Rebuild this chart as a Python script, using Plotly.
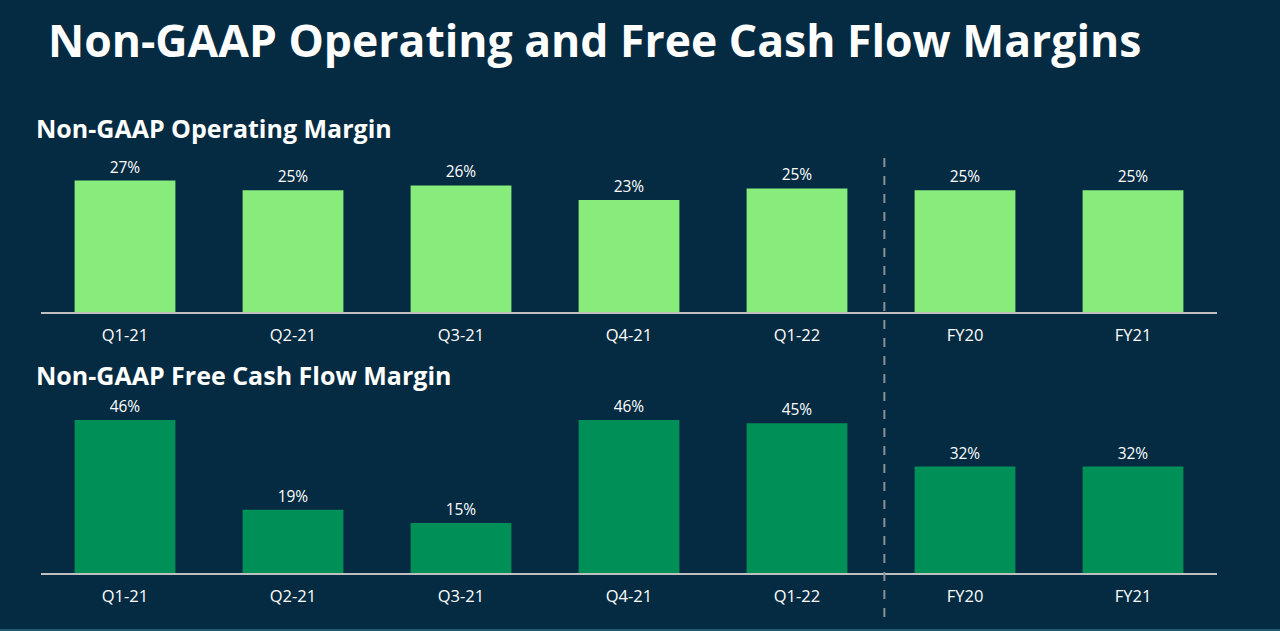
import plotly.graph_objects as go

categories = ["Q1-21", "Q2-21", "Q3-21", "Q4-21", "Q1-22", "FY20", "FY21"]
operating_margin = [26.9, 24.9, 25.9, 22.9, 25.3, 24.9, 24.9]
operating_labels = ["27%", "25%", "26%", "23%", "25%", "25%", "25%"]
fcf_margin = [46.0, 19.0, 15.0, 46.0, 45.0, 32.0, 32.0]
fcf_labels = ["46%", "19%", "15%", "46%", "45%", "32%", "32%"]

BG = "#042b42"
W, H = 1280, 631
FONT = "Open Sans"

def py(px):
    return (H - px) / H

fig = go.Figure()
fig.add_trace(go.Bar(
    x=categories, y=operating_margin, text=operating_labels,
    textposition="outside", cliponaxis=False,
    textfont=dict(color="white", size=15.5, family=FONT),
    marker=dict(color="#87ec7b", line=dict(width=0)),
    width=0.6, xaxis="x", yaxis="y", showlegend=False, hoverinfo="x+y"))
fig.add_trace(go.Bar(
    x=categories, y=fcf_margin, text=fcf_labels,
    textposition="outside", cliponaxis=False,
    textfont=dict(color="white", size=15.5, family=FONT),
    marker=dict(color="#008f57", line=dict(width=0)),
    width=0.6, xaxis="x2", yaxis="y2", showlegend=False, hoverinfo="x+y"))

xdom = [41 / W, 1217 / W]
xcommon = dict(domain=xdom, range=[-0.5, 6.5], showline=True, linecolor="#bfbfbf",
               linewidth=2, showgrid=False, zeroline=False, ticks="outside",
               ticklen=7, tickcolor="rgba(0,0,0,0)",
               tickfont=dict(color="white", size=16.5, family=FONT), fixedrange=True)
fig.update_layout(
    width=W, height=H, paper_bgcolor=BG, plot_bgcolor=BG,
    margin=dict(l=0, r=0, t=0, b=0), bargap=0.4,
    xaxis=dict(**xcommon, anchor="y"),
    xaxis2=dict(**xcommon, anchor="y2"),
    yaxis=dict(domain=[py(312), py(140)], range=[0, 35.2], visible=False, fixedrange=True),
    yaxis2=dict(domain=[py(573), py(395)], range=[0, 53.5], visible=False, fixedrange=True),
    font=dict(family=FONT, color="white"),
)

fig.add_annotation(text="<b>Non-GAAP Operating and Free Cash Flow Margins</b>",
                   xref="paper", yref="paper", x=46 / W, y=py(40), xanchor="left", yanchor="middle",
                   showarrow=False, font=dict(size=44.5, color="white", family=FONT))
fig.add_annotation(text="<b>Non-GAAP Operating Margin</b>",
                   xref="paper", yref="paper", x=34 / W, y=py(128), xanchor="left", yanchor="middle",
                   showarrow=False, font=dict(size=25, color="white", family=FONT))
fig.add_annotation(text="<b>Non-GAAP Free Cash Flow Margin</b>",
                   xref="paper", yref="paper", x=34 / W, y=py(375), xanchor="left", yanchor="middle",
                   showarrow=False, font=dict(size=25, color="white", family=FONT))

fig.add_shape(type="line", xref="x", yref="paper", x0=4.52, x1=4.52, y0=py(617), y1=py(152),
              line=dict(color="#8a9096", width=2, dash="dash"))
fig.add_shape(type="line", xref="paper", yref="paper", x0=0, x1=1, y0=py(630), y1=py(630),
              line=dict(color="#1e5a70", width=2))

fig.write_html("out.html", config={"displayModeBar": False},
               post_script="document.body.style.margin='0';document.body.style.overflow='hidden';")
